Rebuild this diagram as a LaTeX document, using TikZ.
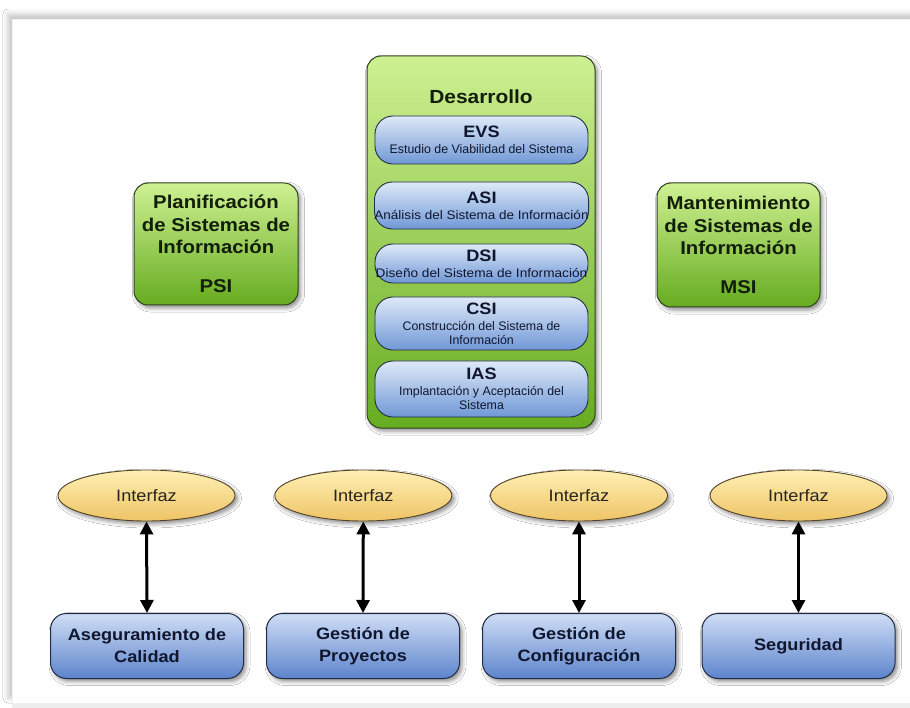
\documentclass[tikz,border=0pt]{standalone}
\usepackage{graphicx}
\usepackage{fontspec}
\setmainfont{Liberation Sans}
\newfontfamily\headfont{Liberation Sans}[FakeStretch=1.1]
\usetikzlibrary{shapes.geometric,arrows.meta,shadows.blur}

\definecolor{greenTop}{RGB}{206,240,146}
\definecolor{greenBot}{RGB}{102,172,32}
\definecolor{greenEdge}{RGB}{48,66,30}
\definecolor{greenText}{RGB}{18,30,10}
\definecolor{pillTop}{RGB}{222,233,248}
\definecolor{pillBot}{RGB}{112,152,214}
\definecolor{boxTop}{RGB}{208,222,246}
\definecolor{boxBot}{RGB}{92,132,204}
\definecolor{blueEdge}{RGB}{34,44,70}
\definecolor{blueText}{RGB}{16,22,46}
\definecolor{ifTop}{RGB}{255,240,180}
\definecolor{ifBot}{RGB}{238,196,102}
\definecolor{ifEdge}{RGB}{86,68,40}
\definecolor{ifText}{RGB}{40,36,30}

\tikzset{
  softshadow/.style={blur shadow={shadow xshift=2.5pt, shadow yshift=-3pt,
      shadow blur radius=4pt, shadow opacity=45}},
  phase/.style={rounded corners=14pt, draw=greenEdge, line width=1pt,
      top color=greenTop, bottom color=greenBot, softshadow, text=greenText,
      align=center, inner sep=0pt,
      font=\headfont\bfseries\fontsize{18.5}{22.5}\selectfont},
  stage/.style={rounded corners=18pt, draw=blueEdge, line width=0.9pt,
      top color=pillTop, bottom color=pillBot, minimum width=213pt,
      text=blueText, align=center, inner sep=0pt,
      font=\fontsize{12.4}{14}\selectfont},
  iface/.style={ellipse, draw=ifEdge, line width=0.9pt, top color=ifTop,
      bottom color=ifBot, minimum width=177pt, minimum height=51pt,
      inner sep=0pt, text=ifText, softshadow,
      font=\headfont\fontsize{16.5}{18}\selectfont},
  proc/.style={rounded corners=16pt, draw=blueEdge, line width=1pt,
      top color=boxTop, bottom color=boxBot, minimum width=193pt,
      minimum height=65pt, align=center, inner sep=0pt, text=blueText,
      softshadow, font=\headfont\bfseries\fontsize{16.5}{22}\selectfont},
  link/.style={line width=3pt, black,
      {Triangle[width=13pt,length=13pt]}-{Triangle[width=13pt,length=13pt]}}
}
\newcommand{\stagehead}[1]{{\headfont\bfseries\fontsize{16.5}{16.5}\selectfont #1}}

\begin{document}
\begin{tikzpicture}[x=1pt,y=-1pt]
  \useasboundingbox (0,0) rectangle (910,708);
  \fill[white] (0,0) rectangle (910,708);

  % outer sheet with a soft edge on the top and left
  \path[fill=white, draw=black!6, line width=0.6pt,
        blur shadow={shadow xshift=-4pt, shadow yshift=5pt,
        shadow blur radius=5pt, shadow opacity=22}]
        (12,19) rectangle (930,703);
  \fill[black!7] (12,703.5) rectangle (910,708);

  % development block with its five processes
  \node[phase, minimum width=228pt, minimum height=372pt] (dev) at (481,242) {};
  \node[anchor=base, text=greenText,
        font=\headfont\bfseries\fontsize{19}{19}\selectfont] (devtitle) at (481,104) {Desarrollo};

  \node[stage, minimum height=48pt] (evs) at (481.5,140)
    {\stagehead{EVS}\\[2pt]Estudio de Viabilidad del Sistema};
  \node[stage, minimum height=47pt] (asi) at (481.5,205.5)
    {\stagehead{ASI}\\[2pt]\scalebox{1.09}[1]{Análisis del Sistema de Información}};
  \node[stage, minimum height=39pt] (dsi) at (481.5,263.5)
    {\stagehead{DSI}\\[2pt]\scalebox{1.1}[1]{Diseño del Sistema de Información}};
  \node[stage, minimum height=53pt] (csi) at (481.5,323.5)
    {\stagehead{CSI}\\[2pt]Construcción del Sistema de\\Información};
  \node[stage, minimum height=56pt] (ias) at (481.5,389)
    {\stagehead{IAS}\\[2pt]Implantación y Aceptación del\\Sistema};

  % planning and maintenance
  \node[phase, minimum width=164pt, minimum height=122pt] (psi) at (216,244)
    {Planificación\\de Sistemas de\\Información\\[16pt]PSI};
  \node[phase, minimum width=163pt, minimum height=124pt] (msi) at (738.5,245)
    {Mantenimiento\\de Sistemas de\\Información\\[16pt]MSI};

  % support interfaces
  \node[iface] (if1) at (146.5,495.5) {Interfaz};
  \node[iface] (if2) at (363.3,495.5) {Interfaz};
  \node[iface] (if3) at (579,495.5) {Interfaz};
  \node[iface] (if4) at (798.5,495.5) {Interfaz};

  \node[proc] (ca) at (147,646) {Aseguramiento de\\Calidad};
  \node[proc] (gp) at (363,646) {Gestión de\\Proyectos};
  \node[proc] (gc) at (579,646) {Gestión de\\Configuración};
  \node[proc] (seg) at (798.5,646) {Seguridad};

  \draw[link] (if1.south) -- (ca.north);
  \draw[link] (if2.south) -- (gp.north);
  \draw[link] (if3.south) -- (gc.north);
  \draw[link] (if4.south) -- (seg.north);
\end{tikzpicture}
\end{document}
